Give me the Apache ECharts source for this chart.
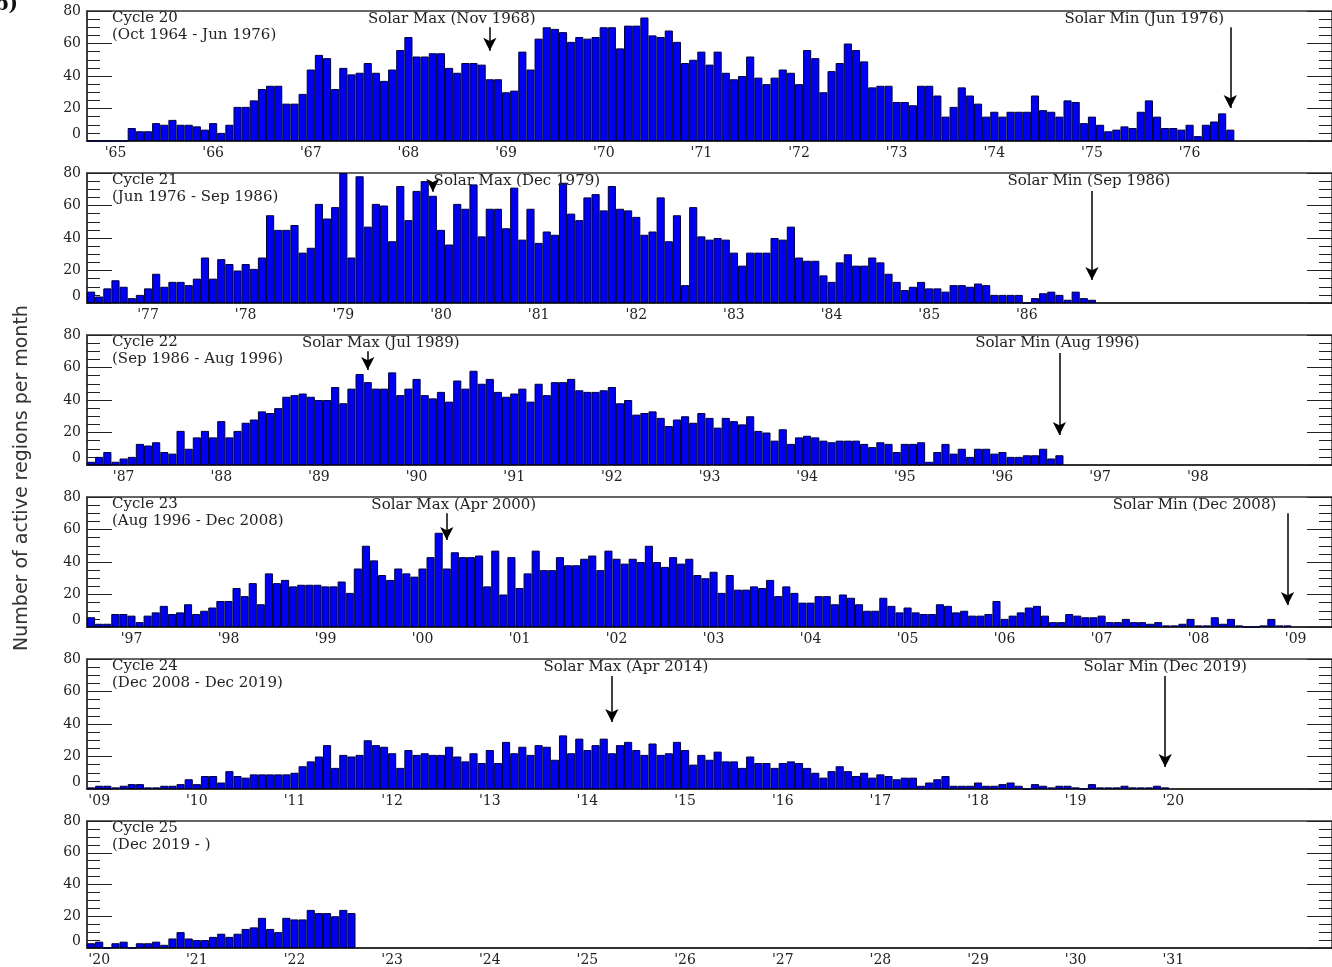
<!DOCTYPE html>
<html>
<head>
<meta charset="utf-8">
<script src="https://cdn.jsdelivr.net/npm/echarts@6/dist/echarts.min.js"></script>
<style>
html,body{margin:0;padding:0;background:#ffffff;}
#chart{width:1332px;height:967px;}
</style>
</head>
<body>
<div id="chart"></div>
<script>
// ---------------- DATA ----------------
// first month shown on each panel's axis, and number of months each axis spans
const startMonths = ['1964-10', '1976-06', '1986-09', '1996-08', '2008-12', '2019-12'];
const axisMonths  = [153, 153, 153, 154, 153, 153];
// last year that gets a tick label on each panel
const lastTickYear = [1976, 1986, 1998, 2009, 2020, 2031];

const cycleNames  = ['Cycle 20', 'Cycle 21', 'Cycle 22', 'Cycle 23', 'Cycle 24', 'Cycle 25'];
const cycleRanges = ['(Oct 1964 - Jun 1976)', '(Jun 1976 - Sep 1986)', '(Sep 1986 - Aug 1996)',
                     '(Aug 1996 - Dec 2008)', '(Dec 2008 - Dec 2019)', '(Dec 2019 - )'];

const solarMaxMonths = ['1968-11', '1979-12', '1989-07', '2000-04', '2014-04', null];
const solarMaxLabels = ['Solar Max (Nov 1968)', 'Solar Max (Dec 1979)', 'Solar Max (Jul 1989)',
                        'Solar Max (Apr 2000)', 'Solar Max (Apr 2014)', null];
const solarMinMonths = ['1976-06', '1986-09', '1996-08', '2008-12', '2019-12', null];
const solarMinLabels = ['Solar Min (Jun 1976)', 'Solar Min (Sep 1986)', 'Solar Min (Aug 1996)',
                        'Solar Min (Dec 2008)', 'Solar Min (Dec 2019)', null];

// monthly number of active regions (starting at the panel's first month)
const cycle20 = [
  0,0,0,
  0,0,8,6,6,11,10,13,10,10,9,7,
  11,5,10,21,21,25,32,34,34,23,23,29,
  44,53,51,32,45,41,42,48,42,37,44,56,
  64,52,52,54,54,45,42,48,48,47,38,38,
  30,31,55,44,63,70,69,67,61,64,63,64,
  70,70,57,71,71,76,65,64,68,61,48,50,
  55,47,55,42,38,40,52,39,35,39,44,42,
  35,56,51,30,43,48,60,56,49,33,34,34,
  24,24,22,34,34,28,15,21,33,28,23,15,
  18,15,18,18,18,28,19,18,15,25,24,11,
  15,10,6,7,9,8,18,25,15,8,8,7,
  10,3,10,12,17,7
];
const cycle21 = [
  7,4,9,14,10,3,5,
  9,18,10,13,13,11,15,28,15,27,24,20,
  24,21,28,54,45,45,48,31,34,61,52,59,
  80,28,78,47,61,60,38,72,51,69,75,66,
  45,36,61,58,73,41,58,58,46,71,39,58,
  37,44,42,74,55,51,65,67,57,72,58,57,
  53,42,44,65,38,54,11,59,41,39,40,39,
  31,23,31,31,31,40,39,47,28,26,26,17,
  13,25,30,23,23,28,25,18,13,8,10,13,
  9,9,7,11,11,10,12,11,5,5,5,5,
  0,3,6,7,5,2,7,3,2
];
const cycle22 = [
  2,5,8,2,
  4,5,13,12,14,8,7,21,10,17,21,17,
  27,17,21,26,28,33,32,35,42,43,44,42,
  40,40,48,38,47,56,51,47,47,57,43,47,
  53,43,41,45,39,52,47,58,50,53,45,42,
  44,47,39,50,43,51,51,53,46,45,45,46,
  48,38,40,31,32,33,29,24,28,30,26,32,
  29,23,29,27,25,30,21,20,15,22,13,17,
  18,17,15,14,15,15,15,13,11,14,13,8,
  13,13,14,2,8,13,7,10,5,10,10,7,
  8,5,5,6,6,10,4,6
];
const cycle23 = [
  6,2,2,8,8,
  7,3,7,9,13,8,9,14,8,10,12,16,
  16,24,19,27,14,33,27,29,25,26,26,26,
  25,25,28,21,36,50,41,32,29,36,33,31,
  36,43,58,36,46,43,43,44,25,47,20,43,
  24,33,47,35,35,43,38,38,42,44,35,47,
  42,39,42,40,50,40,37,43,39,42,32,30,
  34,21,32,23,23,25,24,29,19,25,21,15,
  15,19,19,14,20,18,14,10,10,18,13,9,
  12,9,8,8,14,13,9,10,7,7,8,16,
  5,7,9,12,13,7,3,3,8,7,6,6,
  7,3,3,5,3,3,2,3,1,1,2,5,
  1,1,6,2,5,1,0,0,1,5,1,1
];
const cycle24 = [
  1,
  2,2,1,2,3,3,1,1,2,2,3,6,
  3,8,8,4,11,8,7,9,9,9,9,9,
  10,14,17,20,27,13,21,20,21,30,27,26,
  22,13,24,21,22,21,21,26,20,17,22,16,
  24,16,29,22,26,21,27,26,18,33,22,31,
  24,27,31,22,27,29,24,21,28,21,22,29,
  24,15,21,18,23,17,17,13,20,16,16,13,
  16,17,16,13,10,7,11,14,11,8,10,7,
  9,8,6,7,7,2,4,6,8,2,2,2,
  4,2,2,3,4,2,0,3,2,1,2,2,
  1,0,3,1,1,1,2,1,1,1,2,1
];
const cycle25 = [
  3,
  4,0,3,4,0,3,3,4,2,6,10,6,
  5,5,7,9,7,9,12,13,19,12,10,19,
  18,18,24,22,22,20,24,22
];
const cycleValues = [cycle20, cycle21, cycle22, cycle23, cycle24, cycle25];

// y-axis ticks
const yMin = 0, yMax = 80, yStep = 20;

// ---------------- LAYOUT / STYLE ----------------
const PANEL_TOP = 11, PANEL_PITCH = 162, PANEL_H = 130, PANEL_LEFT = 87;
const SERIF = '"DejaVu Serif", "Liberation Serif", serif';
const TXT = '#222222';
// arrow extents (in axis units) and label horizontal offsets (px)
const maxArrowStyle = [
  {from: 70, to: 55.5, dx: -38}, {from: 73, to: 68.5, dx: 84}, {from: 70, to: 58.5, dx: 13},
  {from: 70, to: 53.5, dx: 7},   {from: 69.5, to: 41.2, dx: 14}, null];
const minArrowStyle = [
  {from: 70, to: 20.3, dx: -86}, {from: 69, to: 14.2, dx: -3}, {from: 69, to: 18.5, dx: -2},
  {from: 70, to: 13.5, dx: -93}, {from: 69.5, to: 13.5, dx: 0}, null];

function monthCategories(start, n) {
  let y = +start.slice(0, 4), m = +start.slice(5, 7);
  const out = [];
  for (let i = 0; i < n; i++) {
    out.push(y + '-' + (m < 10 ? '0' + m : '' + m));
    m++; if (m > 12) { m = 1; y++; }
  }
  return out;
}

const grids = [], xAxes = [], yAxes = [], series = [], graphics = [];

for (let i = 0; i < 6; i++) {
  const top = PANEL_TOP + PANEL_PITCH * i;
  const cats = monthCategories(startMonths[i], axisMonths[i]);
  const lastYear = lastTickYear[i];
  grids.push({left: PANEL_LEFT, right: -3, top: top, height: PANEL_H,
    show: true, borderColor: '#333', borderWidth: 1.5, backgroundColor: 'transparent'});
  xAxes.push({
    type: 'category', gridIndex: i, data: cats, boundaryGap: true,
    axisLine: {show: true, lineStyle: {color: '#222', width: 1.5}},
    axisTick: {show: false},
    splitLine: {show: false},
    axisLabel: {
      interval: (idx, val) => val.slice(5) === '01' && +val.slice(0, 4) <= lastYear,
      formatter: v => "'" + v.slice(2, 4),
      margin: 5, fontFamily: SERIF, fontSize: 14, color: TXT
    }
  });
  const tickStyle = {color: '#222', width: 1};
  yAxes.push({
    type: 'value', gridIndex: i, min: yMin, max: yMax, interval: yStep, position: 'left',
    axisLine: {show: true, lineStyle: {color: '#333', width: 1.5}},
    axisTick: {show: true, inside: true, length: 25, lineStyle: tickStyle},
    minorTick: {show: true, splitNumber: 4, length: 13, lineStyle: tickStyle},
    splitLine: {show: false},
    axisLabel: {margin: 6, fontFamily: SERIF, fontSize: 14, color: TXT,
                verticalAlignMinLabel: 'bottom'}
  });
  yAxes.push({
    type: 'value', gridIndex: i, min: yMin, max: yMax, interval: yStep, position: 'right',
    axisLine: {show: false},
    axisTick: {show: true, inside: true, length: 25, lineStyle: tickStyle},
    minorTick: {show: true, splitNumber: 4, length: 13, lineStyle: tickStyle},
    splitLine: {show: false},
    axisLabel: {show: false}
  });

  const lineData = [], pointData = [];
  const annLabel = {fontFamily: SERIF, fontSize: 15, color: TXT};
  if (solarMaxMonths[i]) {
    const s = maxArrowStyle[i];
    lineData.push([{coord: [solarMaxMonths[i], s.from]}, {coord: [solarMaxMonths[i], s.to]}]);
    pointData.push({coord: [solarMaxMonths[i], yMax],
      label: Object.assign({show: true, position: 'inside', formatter: solarMaxLabels[i], offset: [s.dx, 8]}, annLabel)});
  }
  if (solarMinMonths[i]) {
    const s = minArrowStyle[i];
    lineData.push([{coord: [solarMinMonths[i], s.from]}, {coord: [solarMinMonths[i], s.to]}]);
    pointData.push({coord: [solarMinMonths[i], yMax],
      label: Object.assign({show: true, position: 'inside', formatter: solarMinLabels[i], offset: [s.dx, 8]}, annLabel)});
  }

  series.push({
    type: 'bar', xAxisIndex: i, yAxisIndex: 2 * i,
    data: cycleValues[i],
    barCategoryGap: '0%',
    itemStyle: {color: '#0000f2', borderColor: '#00003a', borderWidth: 1},
    silent: true,
    markLine: lineData.length ? {
      silent: true, symbol: ['none', 'arrow'], symbolSize: [10, 13],
      lineStyle: {color: '#000', width: 1.5, type: 'solid'},
      label: {show: false}, emphasis: {disabled: true},
      data: lineData
    } : undefined,
    markPoint: pointData.length ? {
      silent: true, symbol: 'circle', symbolSize: 0,
      data: pointData
    } : undefined
  });

  graphics.push({type: 'text', x: 112, y: top + 7,
    style: {text: cycleNames[i], font: '15px ' + SERIF, fill: TXT, textAlign: 'left', textVerticalAlign: 'middle'}});
  graphics.push({type: 'text', x: 112, y: top + 24,
    style: {text: cycleRanges[i], font: '15px ' + SERIF, fill: TXT, textAlign: 'left', textVerticalAlign: 'middle'}});
}

graphics.push({type: 'text', x: 22, y: 478, rotation: Math.PI / 2,
  style: {text: 'Number of active regions per month', font: '19px "DejaVu Sans", sans-serif',
          fill: '#333', textAlign: 'center', textVerticalAlign: 'middle'}});
graphics.push({type: 'text', x: 18, y: 5,
  style: {text: 'b)', font: 'bold 20px ' + SERIF, fill: '#111', textAlign: 'right', textVerticalAlign: 'middle'}});

const chart = echarts.init(document.getElementById('chart'), null, {renderer: 'canvas'});
chart.setOption({
  animation: false,
  backgroundColor: '#ffffff',
  grid: grids,
  xAxis: xAxes,
  yAxis: yAxes,
  series: series,
  graphic: graphics
});
</script>
</body>
</html>
